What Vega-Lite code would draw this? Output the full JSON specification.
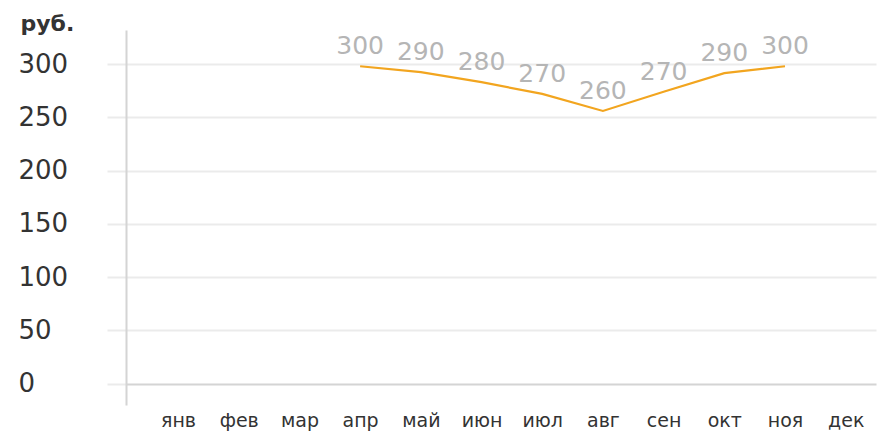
{
  "$schema": "https://vega.github.io/schema/vega-lite/v6.json",
  "width": 750,
  "height": 375,
  "autosize": {"type": "none"},
  "padding": {"left": 126, "top": 30, "right": 8, "bottom": 31},
  "config": {"view": {"stroke": null}, "font": "DejaVu Sans"},
  "data": {
    "values": [
      {"month": "янв", "price": null, "label": null},
      {"month": "фев", "price": null, "label": null},
      {"month": "мар", "price": null, "label": null},
      {"month": "апр", "price": 298, "label": "300"},
      {"month": "май", "price": 292.5, "label": "290"},
      {"month": "июн", "price": 283, "label": "280"},
      {"month": "июл", "price": 272, "label": "270"},
      {"month": "авг", "price": 256, "label": "260"},
      {"month": "сен", "price": 274, "label": "270"},
      {"month": "окт", "price": 291.5, "label": "290"},
      {"month": "ноя", "price": 298, "label": "300"},
      {"month": "дек", "price": null, "label": null}
    ]
  },
  "encoding": {
    "x": {
      "field": "month",
      "type": "ordinal",
      "sort": null,
      "scale": {
        "type": "point",
        "domain": ["янв", "фев", "мар", "апр", "май", "июн", "июл", "авг", "сен", "окт", "ноя", "дек"],
        "padding": 0.678,
        "align": 0.632
      },
      "axis": {
        "title": null,
        "domain": false,
        "ticks": false,
        "grid": false,
        "labelAngle": 0,
        "labelFontSize": 19,
        "labelColor": "#333333",
        "labelBaseline": "middle",
        "labelPadding": 15
      }
    },
    "y": {
      "field": "price",
      "type": "quantitative",
      "scale": {"domain": [-20, 332], "nice": false, "zero": false},
      "axis": {
        "values": [0, 50, 100, 150, 200, 250, 300],
        "title": "руб.",
        "titleAngle": 0,
        "titleAlign": "left",
        "titleBaseline": "alphabetic",
        "titleX": -106,
        "titleY": 0,
        "titleFontSize": 22,
        "titleFontWeight": "bold",
        "titleColor": "#333333",
        "domain": true,
        "domainColor": "#d4d4d4",
        "domainWidth": 2,
        "ticks": true,
        "tickSize": 19,
        "tickColor": "#ebebeb",
        "tickWidth": 2,
        "grid": true,
        "gridColor": {"condition": {"test": "datum.value === 0", "value": "#d4d4d4"}, "value": "#ebebeb"},
        "gridWidth": 2,
        "labelAlign": "left",
        "labelBaseline": "middle",
        "labelPadding": 89,
        "labelFontSize": 26,
        "labelColor": "#333333"
      }
    }
  },
  "layer": [
    {
      "mark": {"type": "line", "color": "#f2a51f", "strokeWidth": 2.2},
      "transform": [{"filter": "datum.price != null"}]
    },
    {
      "mark": {"type": "text", "dy": -20, "fontSize": 25, "color": "#b5b5b5"},
      "transform": [{"filter": "datum.price != null"}],
      "encoding": {"text": {"field": "label"}}
    }
  ]
}
